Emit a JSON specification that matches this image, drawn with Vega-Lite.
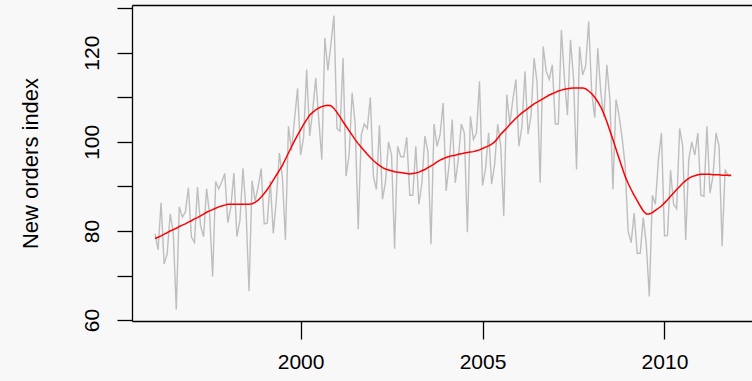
{
"$schema": "https://vega.github.io/schema/vega-lite/v6.json",
"width": 620, "height": 316,
"autosize": {"type": "none"},
"padding": {"left": 132, "top": 5, "right": 0, "bottom": 60},
"background": "#f8f8f8",
"config": {
  "view": {"stroke": null},
  "axis": {"domainColor": "#000", "tickColor": "#000", "labelColor": "#000", "titleColor": "#000", "labelFont": "Liberation Sans", "titleFont": "Liberation Sans", "labelFontSize": 21, "titleFontSize": 22, "titleFontWeight": "normal", "grid": false, "tickSize": 15, "domainWidth": 1.3, "tickWidth": 1.3}
},
"data": {"values": [
{"t":1996.0,"v":79.35,"trend":78.3},{"t":1996.0833,"v":75.78,"trend":78.6},{"t":1996.1667,"v":86.32,"trend":78.9},{"t":1996.25,"v":72.6,"trend":79.3},{"t":1996.3333,"v":74.86,"trend":79.6},{"t":1996.4167,"v":83.81,"trend":80.0},{"t":1996.5,"v":79.8,"trend":80.3},{"t":1996.5833,"v":62.41,"trend":80.6},{"t":1996.6667,"v":85.41,"trend":81.0},{"t":1996.75,"v":83.11,"trend":81.3},{"t":1996.8333,"v":84.21,"trend":81.6},{"t":1996.9167,"v":89.7,"trend":82.0},
{"t":1997.0,"v":78.64,"trend":82.3},{"t":1997.0833,"v":77.42,"trend":82.7},{"t":1997.1667,"v":89.86,"trend":83.0},{"t":1997.25,"v":81.27,"trend":83.4},{"t":1997.3333,"v":78.68,"trend":83.8},{"t":1997.4167,"v":89.51,"trend":84.2},{"t":1997.5,"v":83.67,"trend":84.5},{"t":1997.5833,"v":69.8,"trend":84.8},{"t":1997.6667,"v":91.09,"trend":85.1},{"t":1997.75,"v":89.43,"trend":85.4},{"t":1997.8333,"v":91.04,"trend":85.6},{"t":1997.9167,"v":92.87,"trend":85.8},
{"t":1998.0,"v":81.87,"trend":86.0},{"t":1998.0833,"v":85.36,"trend":86.0},{"t":1998.1667,"v":92.98,"trend":86.0},{"t":1998.25,"v":78.75,"trend":86.0},{"t":1998.3333,"v":82.38,"trend":86.0},{"t":1998.4167,"v":94.06,"trend":86.0},{"t":1998.5,"v":84.66,"trend":86.0},{"t":1998.5833,"v":66.5,"trend":86.0},{"t":1998.6667,"v":91.26,"trend":86.1},{"t":1998.75,"v":86.74,"trend":86.4},{"t":1998.8333,"v":89.86,"trend":86.9},{"t":1998.9167,"v":93.99,"trend":87.6},
{"t":1999.0,"v":81.59,"trend":88.4},{"t":1999.0833,"v":81.77,"trend":89.3},{"t":1999.1667,"v":91.24,"trend":90.3},{"t":1999.25,"v":79.45,"trend":91.4},{"t":1999.3333,"v":86.99,"trend":92.5},{"t":1999.4167,"v":97.5,"trend":93.6},{"t":1999.5,"v":92.0,"trend":94.7},{"t":1999.5833,"v":78.0,"trend":96.1},{"t":1999.6667,"v":103.5,"trend":97.5},{"t":1999.75,"v":98.0,"trend":98.9},{"t":1999.8333,"v":105.0,"trend":100.2},{"t":1999.9167,"v":112.0,"trend":101.5},
{"t":2000.0,"v":97.0,"trend":102.7},{"t":2000.0833,"v":101.0,"trend":103.9},{"t":2000.1667,"v":116.2,"trend":105.0},{"t":2000.25,"v":101.3,"trend":106.0},{"t":2000.3333,"v":107.0,"trend":106.6},{"t":2000.4167,"v":114.3,"trend":107.2},{"t":2000.5,"v":105.0,"trend":107.6},{"t":2000.5833,"v":96.0,"trend":107.9},{"t":2000.6667,"v":123.3,"trend":108.1},{"t":2000.75,"v":116.0,"trend":108.2},{"t":2000.8333,"v":122.0,"trend":108.1},{"t":2000.9167,"v":128.3,"trend":107.5},
{"t":2001.0,"v":103.0,"trend":106.6},{"t":2001.0833,"v":102.4,"trend":105.6},{"t":2001.1667,"v":118.8,"trend":104.5},{"t":2001.25,"v":92.3,"trend":103.5},{"t":2001.3333,"v":97.0,"trend":102.5},{"t":2001.4167,"v":111.0,"trend":101.5},{"t":2001.5,"v":104.0,"trend":100.5},{"t":2001.5833,"v":80.4,"trend":99.6},{"t":2001.6667,"v":101.5,"trend":98.8},{"t":2001.75,"v":104.0,"trend":98.0},{"t":2001.8333,"v":103.0,"trend":97.2},{"t":2001.9167,"v":110.0,"trend":96.5},
{"t":2002.0,"v":92.3,"trend":95.8},{"t":2002.0833,"v":89.3,"trend":95.2},{"t":2002.1667,"v":103.7,"trend":94.7},{"t":2002.25,"v":87.1,"trend":94.2},{"t":2002.3333,"v":91.0,"trend":93.9},{"t":2002.4167,"v":100.0,"trend":93.7},{"t":2002.5,"v":97.0,"trend":93.5},{"t":2002.5833,"v":76.0,"trend":93.3},{"t":2002.6667,"v":99.0,"trend":93.2},{"t":2002.75,"v":96.7,"trend":93.1},{"t":2002.8333,"v":96.6,"trend":93.0},{"t":2002.9167,"v":101.0,"trend":92.9},
{"t":2003.0,"v":88.0,"trend":92.8},{"t":2003.0833,"v":88.0,"trend":92.9},{"t":2003.1667,"v":99.0,"trend":93.0},{"t":2003.25,"v":86.0,"trend":93.2},{"t":2003.3333,"v":90.7,"trend":93.5},{"t":2003.4167,"v":101.3,"trend":93.8},{"t":2003.5,"v":97.7,"trend":94.2},{"t":2003.5833,"v":77.0,"trend":94.6},{"t":2003.6667,"v":104.0,"trend":95.0},{"t":2003.75,"v":99.0,"trend":95.5},{"t":2003.8333,"v":101.6,"trend":95.9},{"t":2003.9167,"v":108.7,"trend":96.2},
{"t":2004.0,"v":89.0,"trend":96.5},{"t":2004.0833,"v":95.0,"trend":96.7},{"t":2004.1667,"v":105.0,"trend":96.9},{"t":2004.25,"v":90.8,"trend":97.0},{"t":2004.3333,"v":96.0,"trend":97.2},{"t":2004.4167,"v":104.0,"trend":97.3},{"t":2004.5,"v":102.0,"trend":97.5},{"t":2004.5833,"v":79.7,"trend":97.6},{"t":2004.6667,"v":105.7,"trend":97.7},{"t":2004.75,"v":100.5,"trend":97.8},{"t":2004.8333,"v":102.0,"trend":98.0},{"t":2004.9167,"v":113.6,"trend":98.2},
{"t":2005.0,"v":90.2,"trend":98.5},{"t":2005.0833,"v":94.0,"trend":98.8},{"t":2005.1667,"v":102.0,"trend":99.1},{"t":2005.25,"v":90.5,"trend":99.5},{"t":2005.3333,"v":95.0,"trend":100.0},{"t":2005.4167,"v":104.0,"trend":100.8},{"t":2005.5,"v":99.0,"trend":101.7},{"t":2005.5833,"v":83.3,"trend":102.4},{"t":2005.6667,"v":110.6,"trend":103.1},{"t":2005.75,"v":104.0,"trend":103.9},{"t":2005.8333,"v":109.5,"trend":104.6},{"t":2005.9167,"v":114.0,"trend":105.3},
{"t":2006.0,"v":99.0,"trend":105.9},{"t":2006.0833,"v":103.5,"trend":106.5},{"t":2006.1667,"v":115.8,"trend":107.0},{"t":2006.25,"v":101.7,"trend":107.5},{"t":2006.3333,"v":106.0,"trend":108.0},{"t":2006.4167,"v":118.8,"trend":108.5},{"t":2006.5,"v":113.2,"trend":108.9},{"t":2006.5833,"v":90.8,"trend":109.3},{"t":2006.6667,"v":121.4,"trend":109.7},{"t":2006.75,"v":115.8,"trend":110.1},{"t":2006.8333,"v":114.0,"trend":110.5},{"t":2006.9167,"v":117.3,"trend":110.8},
{"t":2007.0,"v":104.0,"trend":111.1},{"t":2007.0833,"v":104.0,"trend":111.4},{"t":2007.1667,"v":125.1,"trend":111.6},{"t":2007.25,"v":114.3,"trend":111.8},{"t":2007.3333,"v":106.0,"trend":111.9},{"t":2007.4167,"v":122.9,"trend":112.0},{"t":2007.5,"v":114.3,"trend":112.1},{"t":2007.5833,"v":93.8,"trend":112.1},{"t":2007.6667,"v":121.4,"trend":112.1},{"t":2007.75,"v":115.0,"trend":112.1},{"t":2007.8333,"v":117.0,"trend":111.9},{"t":2007.9167,"v":127.0,"trend":111.4},
{"t":2008.0,"v":111.0,"trend":110.8},{"t":2008.0833,"v":105.4,"trend":110.0},{"t":2008.1667,"v":121.0,"trend":109.0},{"t":2008.25,"v":111.0,"trend":107.8},{"t":2008.3333,"v":105.6,"trend":106.3},{"t":2008.4167,"v":117.3,"trend":104.5},{"t":2008.5,"v":109.5,"trend":102.5},{"t":2008.5833,"v":89.3,"trend":100.5},{"t":2008.6667,"v":109.5,"trend":98.4},{"t":2008.75,"v":106.0,"trend":96.3},{"t":2008.8333,"v":101.0,"trend":94.3},{"t":2008.9167,"v":95.0,"trend":92.3},
{"t":2009.0,"v":80.0,"trend":90.7},{"t":2009.0833,"v":77.4,"trend":89.3},{"t":2009.1667,"v":84.0,"trend":88.0},{"t":2009.25,"v":75.0,"trend":86.8},{"t":2009.3333,"v":75.0,"trend":85.6},{"t":2009.4167,"v":83.0,"trend":84.5},{"t":2009.5,"v":77.0,"trend":83.8},{"t":2009.5833,"v":65.3,"trend":83.8},{"t":2009.6667,"v":88.0,"trend":84.1},{"t":2009.75,"v":86.0,"trend":84.6},{"t":2009.8333,"v":96.0,"trend":85.1},{"t":2009.9167,"v":102.0,"trend":85.6},
{"t":2010.0,"v":78.9,"trend":86.3},{"t":2010.0833,"v":79.0,"trend":87.0},{"t":2010.1667,"v":93.6,"trend":87.8},{"t":2010.25,"v":86.0,"trend":88.5},{"t":2010.3333,"v":85.0,"trend":89.3},{"t":2010.4167,"v":103.0,"trend":90.0},{"t":2010.5,"v":99.0,"trend":90.7},{"t":2010.5833,"v":78.0,"trend":91.3},{"t":2010.6667,"v":96.0,"trend":91.8},{"t":2010.75,"v":100.0,"trend":92.2},{"t":2010.8333,"v":97.0,"trend":92.4},{"t":2010.9167,"v":102.0,"trend":92.6},
{"t":2011.0,"v":88.0,"trend":92.7},{"t":2011.0833,"v":87.8,"trend":92.7},{"t":2011.1667,"v":103.5,"trend":92.7},{"t":2011.25,"v":88.5,"trend":92.7},{"t":2011.3333,"v":92.3,"trend":92.6},{"t":2011.4167,"v":102.0,"trend":92.6},{"t":2011.5,"v":99.0,"trend":92.6},{"t":2011.5833,"v":76.6,"trend":92.5},{"t":2011.6667,"v":93.8,"trend":92.5},{"t":2011.75,"v":92.3,"trend":92.5},{"t":2011.8333,"v":92.3,"trend":92.5}
]},
"layer": [
  {
    "mark": {"type": "line", "color": "#bebebe", "strokeWidth": 1.4},
    "encoding": {
      "x": {"field": "t", "type": "quantitative", "scale": {"domain": [1995.367, 2012.405], "nice": false, "zero": false},
            "axis": {"orient": "bottom", "values": [2000, 2005, 2010], "format": "d", "title": null, "tickSize": 18, "labelPadding": 12, "labelBaseline": "top", "labelFlush": false}},
      "y": {"field": "v", "type": "quantitative", "scale": {"domain": [59.8, 130.7], "nice": false, "zero": false},
            "axis": {"values": [60, 70, 80, 90, 100, 110, 120, 130], "labelExpr": "datum.value % 20 == 0 ? datum.label : ''", "labelOverlap": false, "labelAngle": 270, "labelAlign": "center", "labelBaseline": "alphabetic", "labelPadding": 19, "labelFlush": false,
                     "title": "New orders index", "titleAngle": 270, "titleAlign": "center", "titleBaseline": "alphabetic", "titleX": -95, "titleY": 158}}
    }
  },
  {
    "mark": {"type": "line", "color": "#ff0000", "strokeWidth": 1.5},
    "encoding": {
      "x": {"field": "t", "type": "quantitative", "axis": {"orient": "top", "labels": false, "ticks": false, "title": null}},
      "y": {"field": "trend", "type": "quantitative"}
    }
  }
],
"resolve": {"axis": {"x": "independent"}}
}
